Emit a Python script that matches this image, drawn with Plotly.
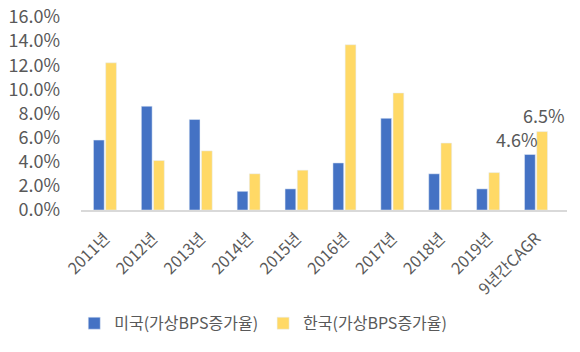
import plotly.graph_objects as go

categories = ["2011년", "2012년", "2013년", "2014년", "2015년", "2016년", "2017년", "2018년", "2019년", "9년간CAGR"]
us_values = [5.8, 8.6, 7.5, 1.55, 1.75, 3.9, 7.6, 3.0, 1.75, 4.6]
kr_values = [12.2, 4.1, 4.9, 3.0, 3.3, 13.7, 9.7, 5.55, 3.1, 6.5]
us_name = "미국(가상BPS증가율)"
kr_name = "한국(가상BPS증가율)"
y_ticks = [0, 2, 4, 6, 8, 10, 12, 14, 16]

font_family = "Noto Sans CJK KR, Noto Sans, sans-serif"
grey = "#595959"

fig = go.Figure()
fig.add_trace(go.Bar(x=categories, y=us_values, name=us_name, marker_color="#4472C4"))
fig.add_trace(go.Bar(x=categories, y=kr_values, name=kr_name, marker_color="#FFD966"))

fig.add_annotation(x=categories[-1], y=us_values[-1], text=f"{us_values[-1]:.1f}%",
                   showarrow=False, xanchor="right", yanchor="bottom", xshift=4, yshift=1,
                   font=dict(size=18, color=grey, family=font_family))
fig.add_annotation(x=categories[-1], y=kr_values[-1], text=f"{kr_values[-1]:.1f}%",
                   showarrow=False, xanchor="center", yanchor="bottom", xshift=8, yshift=2,
                   font=dict(size=18, color=grey, family=font_family))

fig.update_layout(
    width=580, height=352,
    margin=dict(l=81, r=13, t=17, b=139),
    plot_bgcolor="white", paper_bgcolor="white",
    barmode="group", bargap=0.49, bargroupgap=0.12,
    font=dict(family=font_family, color=grey, size=16),
    showlegend=True,
    legend=dict(orientation="h", x=0.375, xanchor="center", y=-0.587, yanchor="middle",
                font=dict(size=16, color=grey), itemwidth=30, tracegroupgap=0),
    xaxis=dict(tickangle=-45, tickfont=dict(size=16, color=grey), showline=True,
               linecolor="#D9D9D9", linewidth=1.5, ticks="", automargin=False,
               ticklabelstandoff=11),
    yaxis=dict(range=[0, 16], tickvals=y_ticks, ticktext=[f"{v:.1f}%" for v in y_ticks],
               showgrid=False, zeroline=False, tickfont=dict(size=18, color=grey), ticks="",
               automargin=False, ticklabelstandoff=20),
)

fig.write_html("out.html")
